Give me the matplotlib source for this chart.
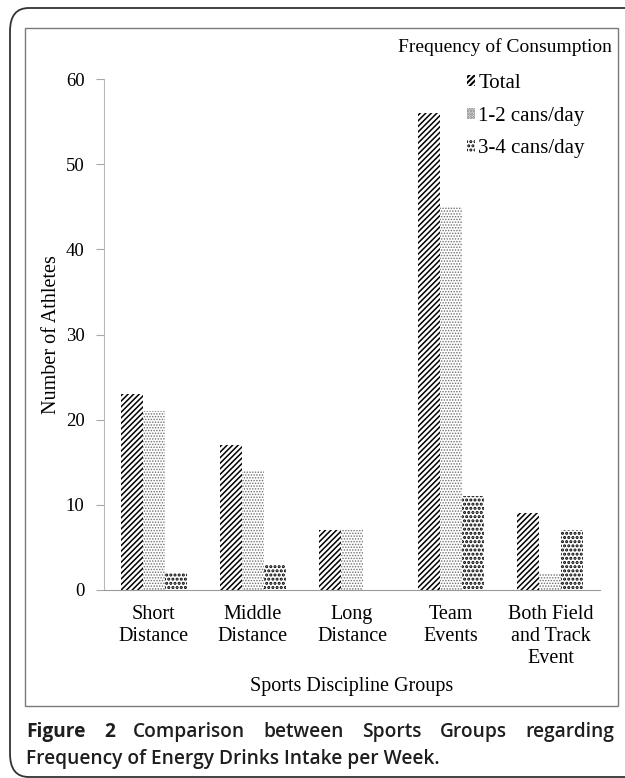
import matplotlib
matplotlib.use("Agg")
import matplotlib.pyplot as plt
from matplotlib.patches import FancyBboxPatch, Rectangle, Patch
import numpy as np

groups = ["Short\nDistance", "Middle\nDistance", "Long\nDistance", "Team\nEvents",
          "Both Field\nand Track\nEvent"]
total = [23, 17, 7, 56, 9]
cans_1_2 = [21, 14, 7, 45, 2]
cans_3_4 = [2, 3, 0, 11, 7]
series_labels = ["Total", "1-2 cans/day", "3-4 cans/day"]
y_ticks = [0, 10, 20, 30, 40, 50, 60]

W, H = 625, 778
fig = plt.figure(figsize=(W / 100, H / 100), dpi=100)
serif = "Liberation Serif"

# pixel coords -> figure fraction
def fx(px):
    return px / W

def fy(py):
    return 1 - py / H

outer = FancyBboxPatch((fx(10), fy(777)), fx(700) - fx(10), fy(8) - fy(777),
                       boxstyle="round,pad=0,rounding_size=0.03",
                       transform=fig.transFigure, fill=False, ec="#333333", lw=1.3)
fig.patches.append(outer)
inner = Rectangle((fx(25), fy(706)), fx(618) - fx(25), fy(28) - fy(706),
                  transform=fig.transFigure, fill=False, ec="#7a7a7a", lw=1.0)
fig.patches.append(inner)

ax = fig.add_axes([fx(104), fy(590), fx(600) - fx(104), fy(79) - fy(590)])
x = np.arange(len(groups))
bw = 0.222
styles = [
    dict(hatch="//////", ec="black", lwh=1.1),
    dict(hatch="......", ec="#6e6e6e", lwh=0.7),
    dict(hatch="....", ec="black", lwh=1.5),
]
handles = []
for i, (vals, st) in enumerate(zip([total, cans_1_2, cans_3_4], styles)):
    plt.rcParams["hatch.linewidth"] = st["lwh"]
    ax.bar(x + (i - 1) * bw, vals, width=bw, color="white", edgecolor=st["ec"],
           hatch=st["hatch"], linewidth=0)
    handles.append(Patch(facecolor="white", edgecolor=st["ec"], hatch=st["hatch"],
                         linewidth=0, label=series_labels[i]))

ax.set_xlim(-0.5, len(groups) - 0.5)
ax.set_ylim(0, 60)
ax.set_yticks(y_ticks)
ax.set_xticks(x)
ax.set_xticklabels(groups, fontfamily=serif, fontsize=14.5, linespacing=1.22)
ax.tick_params(axis="x", length=0, pad=11)
ax.tick_params(axis="y", length=6, color="#a8a8a8", pad=8, labelsize=13.5)
for t in ax.get_yticklabels():
    t.set_fontfamily(serif)
for s in ["top", "right"]:
    ax.spines[s].set_visible(False)
ax.spines["left"].set_color("#b8b8b8")
ax.spines["bottom"].set_color("#9a9a9a")
fig.text(fx(52), fy(335), "Number of Athletes", fontfamily=serif, fontsize=14.5,
         rotation=90, ha="center", va="center")
fig.text(fx(352), fy(687), "Sports Discipline Groups", fontfamily=serif, fontsize=14.5,
         ha="center", va="center")

fig.text(fx(398), fy(47), "Frequency of Consumption", fontfamily=serif, fontsize=14,
         ha="left", va="center")
ax.legend(handles=handles, loc="upper left",
          bbox_to_anchor=(fx(467), fy(74)), bbox_transform=fig.transFigure,
          frameon=False, prop={"family": serif, "size": 15},
          handlelength=0.4, handleheight=0.45, handletextpad=0.15,
          labelspacing=0.66, borderpad=0, borderaxespad=0)

# caption, first line justified
cap_font = "Open Sans"
words = ["Figure", "2", "Comparison", "between", "Sports", "Groups", "regarding"]
weights = ["bold", "bold", "semibold", "semibold", "semibold", "semibold", "semibold"]
fig.canvas.draw()
r = fig.canvas.get_renderer()
txts = [fig.text(0, fy(732), w, fontfamily=cap_font, fontsize=13.8, fontweight=wt,
                 color="#1e1e1e", va="center") for w, wt in zip(words, weights)]
widths = [t.get_window_extent(r).width for t in txts]
left, right = 26, 614
gap = (right - left - sum(widths)) / (len(words) - 1)
pos = left
for t, wd in zip(txts, widths):
    t.set_x(fx(pos))
    pos += wd + gap
fig.text(fx(26), fy(759), "Frequency of Energy Drinks Intake per Week.",
         fontfamily=cap_font, fontsize=13.8, fontweight="semibold", color="#1e1e1e",
         va="center")

fig.savefig("out.png", dpi=100)
